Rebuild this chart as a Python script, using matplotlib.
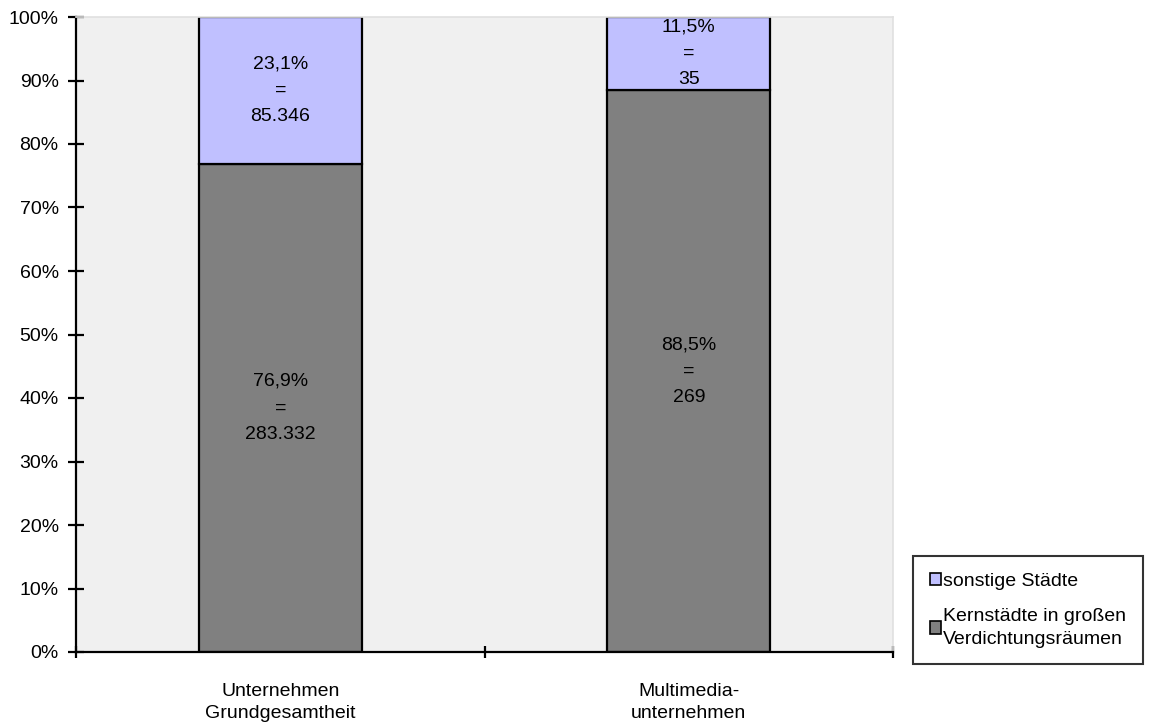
import numpy as np
import matplotlib.pyplot as plt
from matplotlib.patches import Patch

plt.rcParams["font.family"] = ["Liberation Sans", "DejaVu Sans"]

# Data
categories = ["Unternehmen\nGrundgesamtheit", "Multimedia-\nunternehmen"]
kern_pct = [76.9, 88.5]
sonst_pct = [23.1, 11.5]
kern_labels = ["76,9%\n=\n283.332", "88,5%\n=\n269"]
sonst_labels = ["23,1%\n=\n85.346", "11,5%\n=\n35"]
series_names = ["sonstige Städte", "Kernstädte in großen\nVerdichtungsräumen"]
yticks = [0, 10, 20, 30, 40, 50, 60, 70, 80, 90, 100]

c_kern = "#808080"
c_sonst = "#c0c0ff"
fs = 14

fig = plt.figure(figsize=(11.53, 7.22), dpi=100)
ax = fig.add_axes([76 / 1153, 1 - 652 / 722, (893 - 76) / 1153, (652 - 17) / 722])
ax.set_facecolor("#f0f0f0")

x = np.arange(len(categories))
ax.bar(x, kern_pct, width=0.4, color=c_kern, edgecolor="black", linewidth=1.6)
ax.bar(x, sonst_pct, width=0.4, bottom=kern_pct, color=c_sonst,
       edgecolor="black", linewidth=1.6)

for i in range(len(categories)):
    ax.text(x[i], kern_pct[i] / 2, kern_labels[i], ha="center", va="center",
            fontsize=fs, linespacing=1.72)
    ax.text(x[i], kern_pct[i] + sonst_pct[i] / 2, sonst_labels[i], ha="center",
            va="center", fontsize=fs, linespacing=1.72)

ax.set_xlim(-0.5, 1.5)
ax.set_ylim(0, 100)
ax.set_yticks(yticks)
ax.set_yticklabels([f"{v}%" for v in yticks], fontsize=fs)

# category boundaries as major ticks, labels on minor ticks
ax.set_xticks([-0.5, 0.5, 1.5])
ax.set_xticklabels([])
ax.set_xticks(x, minor=True)
ax.set_xticklabels(categories, minor=True, fontsize=fs, linespacing=1.4)
ax.tick_params(axis="x", which="minor", length=0, pad=22)
ax.tick_params(axis="x", which="major", direction="inout", length=9, width=1.6)
ax.tick_params(axis="y", direction="inout", length=11, width=1.6, pad=7)

for s in ["left", "bottom"]:
    ax.spines[s].set_linewidth(1.6)
for s in ["top", "right"]:
    ax.spines[s].set_color("#e0e0e0")
    ax.spines[s].set_linewidth(1.2)

handles = [Patch(facecolor=c_sonst, edgecolor="black", linewidth=1.2),
           Patch(facecolor=c_kern, edgecolor="black", linewidth=1.2)]
leg = fig.legend(handles, series_names, loc="upper left",
                 bbox_to_anchor=(913 / 1153, 1 - 556 / 722),
                 fontsize=fs, frameon=True, fancybox=False,
                 handlelength=0.6, handleheight=0.6, handletextpad=0.1,
                 borderpad=0.85, labelspacing=0.95, borderaxespad=0)
leg.get_frame().set_edgecolor("black")
leg.get_frame().set_linewidth(1.5)
for t in leg.get_texts():
    t.set_linespacing(1.45)

fig.savefig("out.png", dpi=100)
